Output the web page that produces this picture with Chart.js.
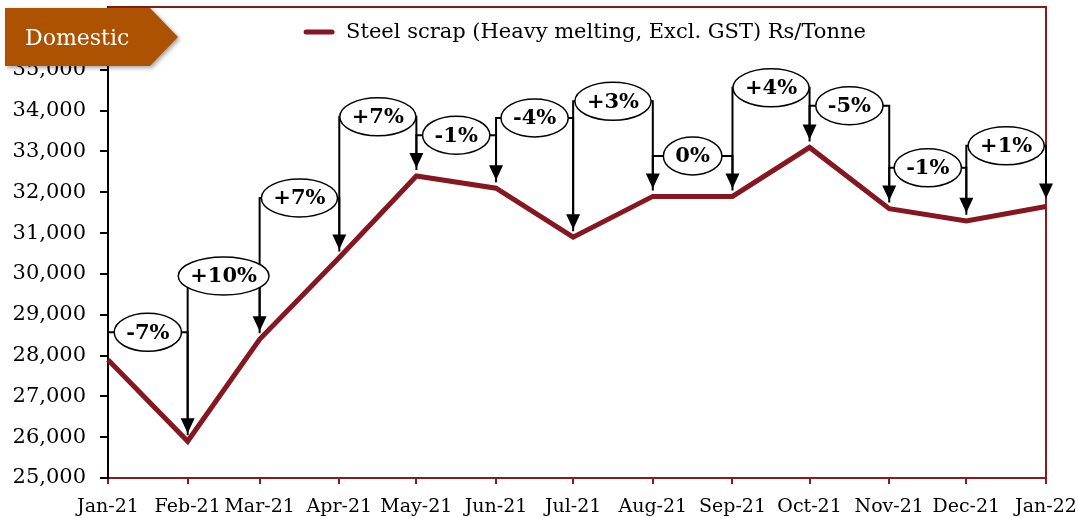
<!DOCTYPE html>
<html><head><meta charset="utf-8">
<script src="https://cdn.jsdelivr.net/npm/chart.js@4.4.0/dist/chart.umd.min.js"></script>
<style>html,body{margin:0;padding:0;background:#fff;}#wrap{position:relative;width:1078px;height:518px;}</style>
</head><body><div id="wrap"><canvas id="c" width="1078" height="518"></canvas></div>
<script>
const months = ['Jan-21','Feb-21','Mar-21','Apr-21','May-21','Jun-21','Jul-21','Aug-21','Sep-21','Oct-21','Nov-21','Dec-21','Jan-22'];
const dates = ['2021-01-01','2021-02-01','2021-03-01','2021-04-01','2021-05-01','2021-06-01','2021-07-01','2021-08-01','2021-09-01','2021-10-01','2021-11-01','2021-12-01','2022-01-01'];
const prices = [27900,25900,28400,30400,32400,32100,30900,31900,31900,33100,31600,31300,31650];
const changeLabels = ['-7%','+10%','+7%','+7%','-1%','-4%','+3%','0%','+4%','-5%','-1%','+1%'];
const calloutLevels = [28570,29950,31860,33850,33400,33820,34230,32890,34560,34120,32600,33140];
const yTicks = [25000,26000,27000,28000,29000,30000,31000,32000,33000,34000,35000];
const seriesLabel = 'Steel scrap (Heavy melting, Excl. GST) Rs/Tonne';
const badgeText = 'Domestic';

const RED = '#86161F';
const FRAME = '#8B1A1A';
const SERIF = '"DejaVu Serif", "Liberation Serif", serif';
const dayMs = 86400000;
const t0 = Date.parse(dates[0] + 'T00:00:00Z');
const days = dates.map(d => (Date.parse(d + 'T00:00:00Z') - t0) / dayMs);

const framePlugin = {
  id: 'frame',
  beforeDatasetsDraw(chart) {
    const {ctx, chartArea: a} = chart;
    ctx.save();
    ctx.strokeStyle = FRAME; ctx.lineWidth = 2;
    ctx.beginPath();
    ctx.moveTo(a.left, a.top); ctx.lineTo(a.right, a.top); ctx.lineTo(a.right, a.bottom);
    ctx.stroke();
    ctx.restore();
  }
};

const calloutPlugin = {
  id: 'callouts',
  afterDatasetsDraw(chart) {
    const {ctx} = chart;
    const xs = chart.scales.x, ys = chart.scales.y;
    ctx.save();
    ctx.strokeStyle = '#000'; ctx.fillStyle = '#000'; ctx.lineWidth = 2;
    const gap = 8, headH = 15, headW = 7;
    for (let i = 0; i < changeLabels.length; i++) {
      const x0 = xs.getPixelForValue(days[i]), x1 = xs.getPixelForValue(days[i + 1]);
      const yL = ys.getPixelForValue(calloutLevels[i]);
      const y0 = ys.getPixelForValue(prices[i]), y1 = ys.getPixelForValue(prices[i + 1]);
      ctx.beginPath();
      ctx.moveTo(x0, y0 - gap + 2); ctx.lineTo(x0, yL); ctx.lineTo(x1, yL); ctx.lineTo(x1, y1 - gap - headH + 2);
      ctx.stroke();
      ctx.beginPath();
      ctx.moveTo(x1 - headW, y1 - gap - headH); ctx.lineTo(x1 + headW, y1 - gap - headH); ctx.lineTo(x1, y1 - gap);
      ctx.closePath(); ctx.fill();
    }
    ctx.font = 'bold 21px ' + SERIF;
    ctx.textAlign = 'center'; ctx.textBaseline = 'middle';
    for (let i = 0; i < changeLabels.length; i++) {
      const x0 = xs.getPixelForValue(days[i]), x1 = xs.getPixelForValue(days[i + 1]);
      const cx = (x0 + x1) / 2, cy = ys.getPixelForValue(calloutLevels[i]);
      const w = ctx.measureText(changeLabels[i]).width + 24, h = 38;
      ctx.beginPath();
      ctx.ellipse(cx, cy, w / 2, h / 2, 0, 0, Math.PI * 2);
      ctx.fillStyle = '#fff'; ctx.fill();
      ctx.lineWidth = 1.5; ctx.strokeStyle = '#000'; ctx.stroke();
      ctx.fillStyle = '#000';
      ctx.fillText(changeLabels[i], cx, cy + 1);
    }
    ctx.restore();
  }
};

const legendPlugin = {
  id: 'customLegend',
  afterDraw(chart) {
    const {ctx, chartArea: a} = chart;
    ctx.save();
    ctx.font = '21px ' + SERIF;
    const tw = ctx.measureText(seriesLabel).width;
    const total = 30 + 12 + tw;
    const cx = (a.left + a.right) / 2 + 8;
    const sx = cx - total / 2, y = a.top + 25;
    ctx.strokeStyle = RED; ctx.lineWidth = 5; ctx.lineCap = 'round';
    ctx.beginPath(); ctx.moveTo(sx + 2, y); ctx.lineTo(sx + 28, y); ctx.stroke();
    ctx.fillStyle = '#000'; ctx.textBaseline = 'middle'; ctx.textAlign = 'left';
    ctx.fillText(seriesLabel, sx + 42, y + 1);
    ctx.restore();
  }
};

const badgePlugin = {
  id: 'badge',
  afterDraw(chart) {
    const {ctx} = chart;
    ctx.save();
    ctx.shadowColor = 'rgba(0,0,0,0.35)'; ctx.shadowBlur = 4; ctx.shadowOffsetX = 2; ctx.shadowOffsetY = 2;
    ctx.fillStyle = '#AD5200';
    ctx.beginPath();
    ctx.moveTo(5, 8); ctx.lineTo(150, 8); ctx.lineTo(178, 37); ctx.lineTo(150, 66); ctx.lineTo(5, 66);
    ctx.closePath(); ctx.fill();
    ctx.restore();
    ctx.save();
    ctx.fillStyle = '#fff'; ctx.font = '22px ' + SERIF; ctx.textBaseline = 'middle'; ctx.textAlign = 'left';
    ctx.fillText(badgeText, 25, 39);
    ctx.restore();
  }
};

new Chart(document.getElementById('c'), {
  type: 'line',
  data: {
    datasets: [{
      label: seriesLabel,
      data: days.map((d, i) => ({x: d, y: prices[i]})),
      borderColor: RED, borderWidth: 5, pointRadius: 0, tension: 0, fill: false, clip: false
    }]
  },
  options: {
    responsive: false, animation: false, devicePixelRatio: 1,
    layout: {padding: {top: 7, right: 32, left: 0, bottom: 0}},
    plugins: {legend: {display: false}, tooltip: {enabled: false}},
    scales: {
      x: {
        type: 'linear', min: days[0], max: days[days.length - 1],
        afterBuildTicks: s => { s.ticks = days.map(v => ({value: v})); },
        afterFit: s => { s.height = 40; s.paddingLeft = 0; s.paddingRight = 0; },
        ticks: {autoSkip: false, maxRotation: 0, padding: 12, color: '#000',
          font: {family: SERIF, size: 19}, callback: (v, i) => months[i]},
        grid: {drawOnChartArea: false, drawTicks: true, tickLength: 6, color: FRAME, lineWidth: 2},
        border: {color: FRAME, width: 2}
      },
      y: {
        min: 25000, max: 36540,
        afterBuildTicks: s => { s.ticks = yTicks.map(v => ({value: v})); },
        afterFit: s => { s.width = 108; s.paddingTop = 0; s.paddingBottom = 0; },
        ticks: {color: '#000', padding: 14, font: {family: SERIF, size: 21},
          callback: v => Number(v).toLocaleString('en-US')},
        grid: {drawOnChartArea: false, drawTicks: true, tickLength: 8, color: '#000', lineWidth: 2},
        border: {color: '#000', width: 2}
      }
    }
  },
  plugins: [framePlugin, calloutPlugin, legendPlugin, badgePlugin]
});
</script></body></html>
